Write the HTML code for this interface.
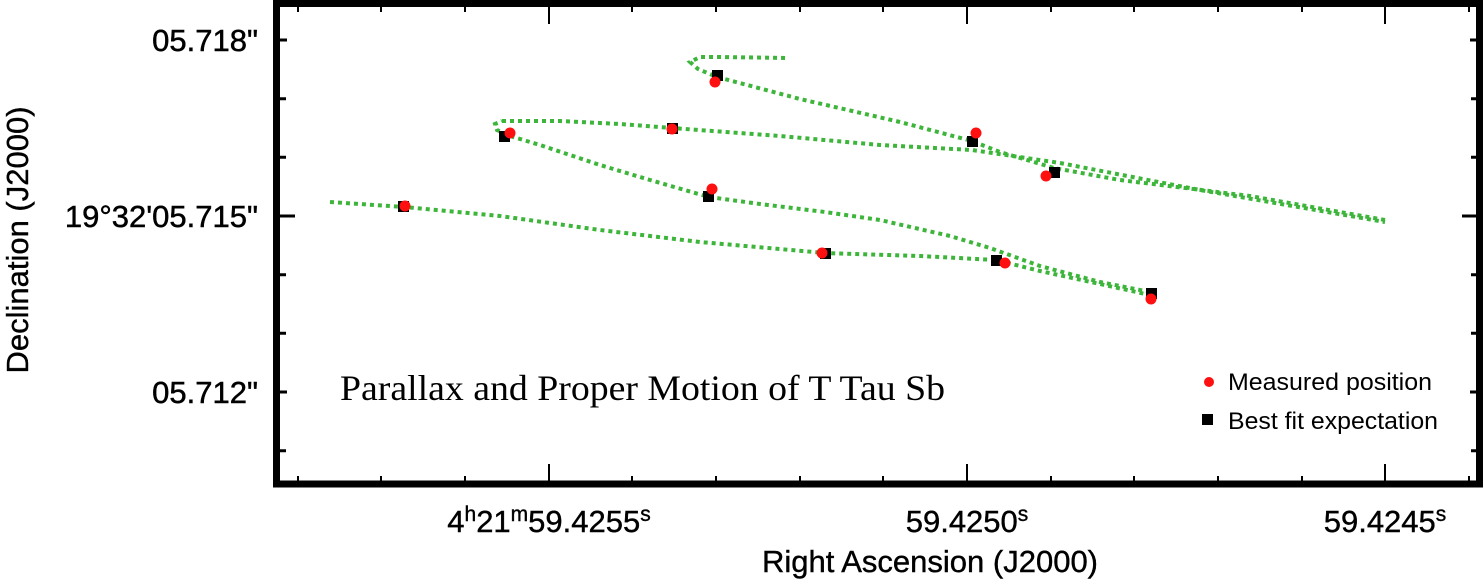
<!DOCTYPE html>
<html><head><meta charset="utf-8"><style>
html,body{margin:0;padding:0;background:#fff;}
svg{display:block;}
.t{font-family:"Liberation Sans",Arial,sans-serif;fill:#000;}
</style></head><body>
<svg width="1484" height="579" viewBox="0 0 1484 579" xmlns="http://www.w3.org/2000/svg">
<g stroke="#000" stroke-width="2">
  <path d="M298 481v-5M381 481v-5M465 481v-5M549 481v-17M632 481v-5M716 481v-5M800 481v-5M883 481v-5M967 481v-17M1051 481v-5M1134 481v-5M1218 481v-5M1302 481v-5M1385 481v-17M1469 481v-5"/>
  <path d="M298 7v5M381 7v5M465 7v5M549 7v17M632 7v5M716 7v5M800 7v5M883 7v5M967 7v17M1051 7v5M1134 7v5M1218 7v5M1302 7v5M1385 7v17M1469 7v5"/>
</g>
<g stroke="#000" stroke-width="3">
  <path d="M280 40h7M280 98.7h6M280 157.3h6M280 216h15M280 274.7h6M280 333.3h6M280 392h7M280 450.7h6"/>
  <path d="M1477 40h-7M1477 98.7h-6M1477 157.3h-6M1477 216h-15M1477 274.7h-6M1477 333.3h-6M1477 392h-7M1477 450.7h-6"/>
</g>
<rect x="276.5" y="3.5" width="1203" height="480.5" fill="none" stroke="#000" stroke-width="7"/>

<g fill="none" stroke="#3db53a" stroke-width="4" stroke-dasharray="4 4">
  <polyline points="330,202 404,207 500,216 600,230 700,242 825,253 920,256 996,260 1040,271 1100,284 1150,295"/>
  <polyline points="1150,292 1100,282 1040,266 990,248 950,236 880,220 825,212 760,204 709,197 650,180 600,165 540,145 510,136 497,130 495,124 502,121"/>
  <polyline points="502,121 560,121 620,124 672,128 780,136 880,145 972,150 1060,163 1200,190 1385,222"/>
  <polyline points="1385,220 1250,196 1120,180 1054,168 1000,152 972,141 900,122 800,99 717,77 698,69 690,62 700,57 720,57 787,58"/>
</g>

<g fill="#000">
  <rect x="398" y="201" width="11" height="11"/>
  <rect x="499" y="131" width="11" height="11"/>
  <rect x="667" y="123" width="11" height="11"/>
  <rect x="712" y="70" width="11" height="11"/>
  <rect x="703" y="191" width="11" height="11"/>
  <rect x="820" y="248" width="11" height="11"/>
  <rect x="967" y="136" width="11" height="11"/>
  <rect x="1049" y="167" width="11" height="11"/>
  <rect x="991" y="255" width="11" height="11"/>
  <rect x="1146" y="288" width="11" height="11"/>
</g>
<g fill="#ff1010">
  <circle cx="405" cy="206" r="5.5"/>
  <circle cx="510" cy="133" r="5.5"/>
  <circle cx="672" cy="129" r="5.5"/>
  <circle cx="715" cy="82" r="5.5"/>
  <circle cx="712" cy="189" r="5.5"/>
  <circle cx="822" cy="253" r="5.5"/>
  <circle cx="976" cy="133" r="5.5"/>
  <circle cx="1046" cy="176" r="5.5"/>
  <circle cx="1005" cy="263" r="5.5"/>
  <circle cx="1151" cy="299" r="5.5"/>
</g>

<text x="340" y="400" font-family="'Liberation Serif','Times New Roman',serif" font-size="36" textLength="605" lengthAdjust="spacingAndGlyphs">Parallax and Proper Motion of T Tau Sb</text>

<circle cx="1209" cy="382" r="5" fill="#ff1010"/>
<text class="t" x="1228" y="390" font-size="24" textLength="204" lengthAdjust="spacingAndGlyphs">Measured position</text>
<rect x="1202" y="414" width="11" height="11" fill="#000"/>
<text class="t" x="1228" y="429" font-size="24" textLength="210" lengthAdjust="spacingAndGlyphs">Best fit expectation</text>

<g class="t" font-size="31" text-anchor="end" stroke="#000" stroke-width="0.5">
  <text x="258" y="51">05.718"</text>
  <text x="258" y="227">19°32'05.715"</text>
  <text x="258" y="403">05.712"</text>
</g>
<text class="t" font-size="31" text-anchor="middle" stroke="#000" stroke-width="0.4" transform="translate(28,240) rotate(-90)">Declination (J2000)</text>

<g class="t" font-size="31" text-anchor="middle" stroke="#000" stroke-width="0.4">
  <text x="549" y="532">4<tspan font-size="21" dy="-11">h</tspan><tspan dy="11">21</tspan><tspan font-size="21" dy="-11">m</tspan><tspan dy="11">59.4255</tspan><tspan font-size="21" dy="-11">s</tspan></text>
  <text x="967" y="532">59.4250<tspan font-size="21" dy="-11">s</tspan></text>
  <text x="1385" y="532">59.4245<tspan font-size="21" dy="-11">s</tspan></text>
  <text x="930" y="572">Right Ascension (J2000)</text>
</g>
</svg>
</body></html>
